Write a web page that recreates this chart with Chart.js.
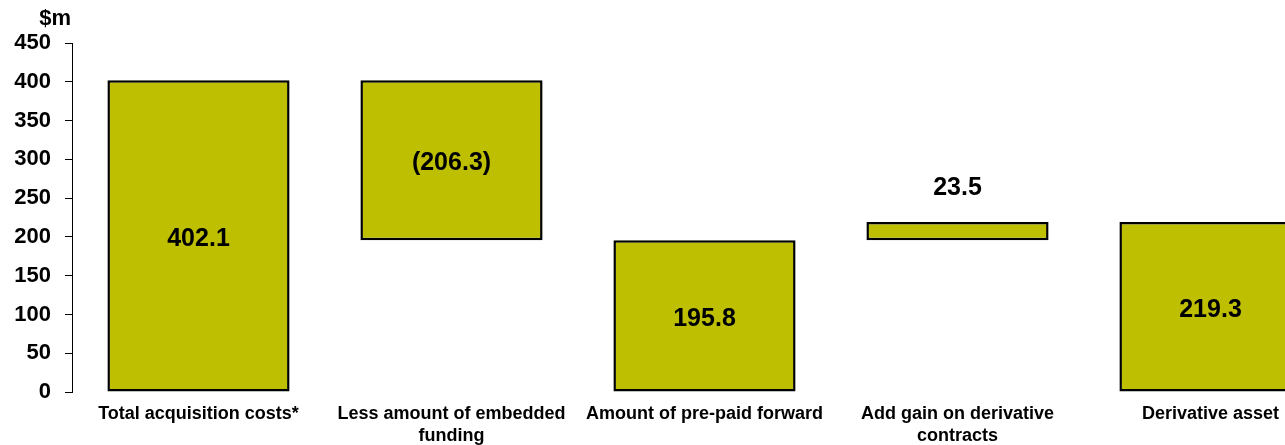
<!DOCTYPE html>
<html>
<head>
<meta charset="utf-8">
<script src="https://cdn.jsdelivr.net/npm/chart.js@4/dist/chart.umd.min.js"></script>
<style>
  html, body { margin: 0; padding: 0; background: #fff; overflow: hidden; }
  #wrap { position: relative; width: 1340px; height: 445px; }
</style>
</head>
<body>
<div id="wrap"><canvas id="myChart"></canvas></div>
<script>
// bridge from acquisition costs to derivative asset, $m
const categories = [
    ["Total acquisition costs*"],
    ["Less amount of embedded", "funding"],
    ["Amount of pre-paid forward"],
    ["Add gain on derivative", "contracts"],
    ["Derivative asset"]
];
const amounts = [402.1, -206.3, 195.8, 23.5, 219.3];
const isTotal = [true, false, true, false, true];
const yTicks = [0, 50, 100, 150, 200, 250, 300, 350, 400, 450];

// totals start at zero, movements float from the running total
let running = 0;
const floating = amounts.map(function (v, i) {
    if (isTotal[i]) {
        running = v;
        return [0, v];
    }
    const from = running;
    running = running + v;
    return [Math.min(from, running), Math.max(from, running)];
});

const fontFamily = "'Liberation Sans', Arial, sans-serif";

function fmt(v) {
    return v < 0 ? "(" + Math.abs(v).toFixed(1) + ")" : v.toFixed(1);
}

const valueLabels = {
    id: 'valueLabels',
    afterDatasetsDraw(chart) {
        const ctx = chart.ctx;
        const meta = chart.getDatasetMeta(0);
        ctx.save();
        ctx.font = "bold 25px " + fontFamily;
        ctx.fillStyle = "#000";
        ctx.textAlign = "center";
        ctx.textBaseline = "middle";
        meta.data.forEach(function (bar, i) {
            const top = Math.min(bar.y, bar.base);
            const bottom = Math.max(bar.y, bar.base);
            let y = (top + bottom) / 2 + 3;
            if (bottom - top < 40) y = top - 34;
            ctx.fillText(fmt(amounts[i]), bar.x, y);
        });
        // unit above the value axis
        ctx.font = "bold 22px " + fontFamily;
        ctx.textAlign = "right";
        ctx.fillText("$m", 71, 19);
        ctx.restore();
    }
};

new Chart(document.getElementById("myChart"), {
    type: 'bar',
    data: {
        labels: categories,
        datasets: [{
            data: floating,
            backgroundColor: "#BDBF00",
            borderColor: "#000000",
            borderWidth: 2.5,
            borderSkipped: false,
            barPercentage: 0.72,
            categoryPercentage: 1.0
        }]
    },
    options: {
        responsive: true,
        maintainAspectRatio: false,
        animation: false,
        layout: { padding: { top: 43, right: 3, left: 0, bottom: 0 } },
        plugins: {
            legend: { display: false },
            tooltip: { enabled: false }
        },
        scales: {
            x: {
                grid: { display: false, drawTicks: false },
                border: { display: false },
                ticks: {
                    color: "#000",
                    padding: 12,
                    maxRotation: 0,
                    autoSkip: false,
                    font: { family: fontFamily, size: 18, weight: 'bold', lineHeight: 1.17 }
                },
                afterFit(scale) { scale.height = 53; }
            },
            y: {
                min: 0,
                max: 450,
                afterBuildTicks(scale) { scale.ticks = yTicks.map(function (v) { return { value: v }; }); },
                grid: { drawOnChartArea: false, drawTicks: true, tickLength: 7, color: "#000" },
                border: { display: true, color: "#000", width: 1 },
                ticks: {
                    color: "#000",
                    padding: 14,
                    font: { family: fontFamily, size: 22, weight: 'bold' }
                },
                afterFit(scale) { scale.width = 72; }
            }
        }
    },
    plugins: [valueLabels]
});
</script>
</body>
</html>
